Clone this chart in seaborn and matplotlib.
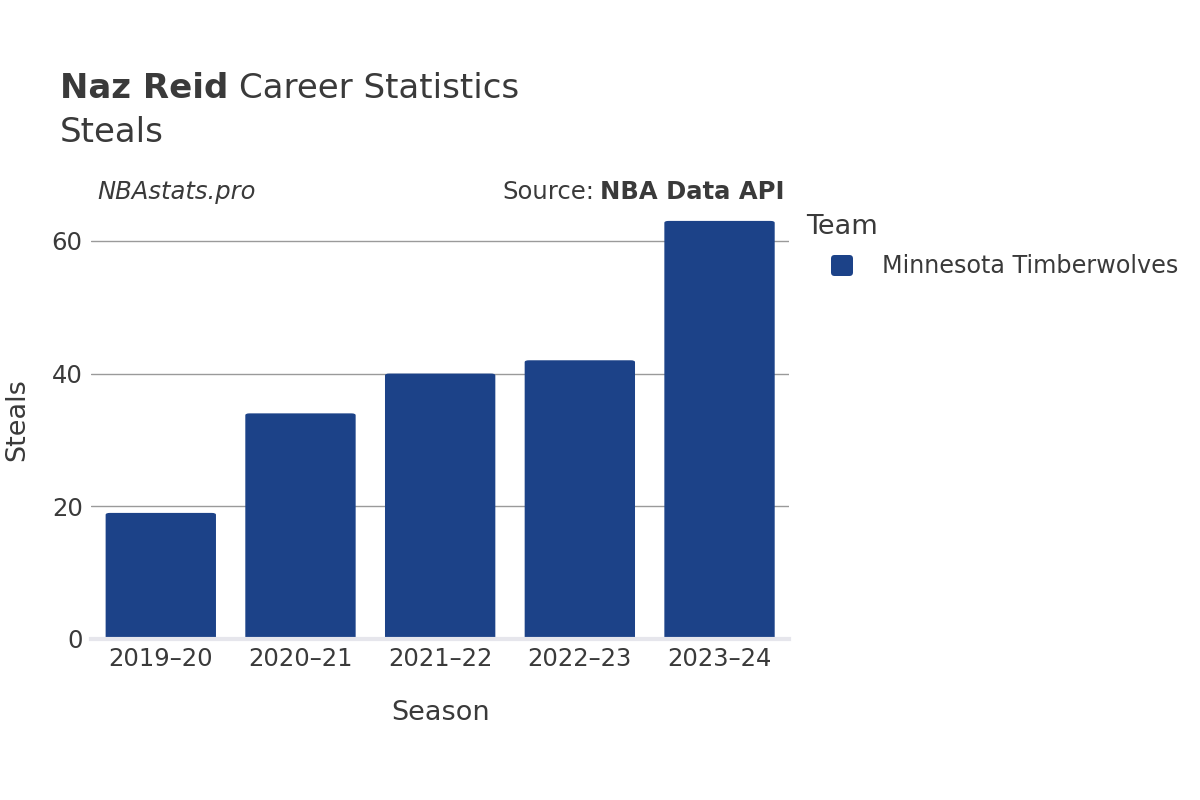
import pandas as pd
import matplotlib.pyplot as plt
import seaborn as sns
from matplotlib.patches import FancyBboxPatch

# Data
seasons = ['2019–20', '2020–21', '2021–22', '2022–23', '2023–24']
steals = [19, 34, 40, 42, 63]
teams = ['Minnesota Timberwolves'] * 5

bar_color = '#1c4288'
text_color = '#3a3a3a'

df = pd.DataFrame({'Season': seasons, 'Steals': steals, 'Team': teams})

sns.set_theme(style='white')
plt.rcParams['font.family'] = ['DejaVu Sans']

fig = plt.figure(figsize=(12, 8), dpi=100)
ax = fig.add_axes([0.0758, 0.20125, 0.582, 0.5475])

sns.barplot(data=df, x='Season', y='Steals', hue='Team', palette=[bar_color],
            width=0.79, dodge=False, legend=False, ax=ax, zorder=3)

# rounded top corners: replace rectangles with rounded boxes (bottom hidden under axis)
for p in list(ax.patches):
    x, y, w, h = p.get_x(), p.get_y(), p.get_width(), p.get_height()
    p.set_visible(False)
    rb = FancyBboxPatch((x, y - 3), w, h + 3,
                        boxstyle='round,pad=0,rounding_size=0.03',
                        mutation_aspect=9.5,
                        facecolor=bar_color, edgecolor='none', zorder=3,
                        clip_on=True)
    ax.add_patch(rb)

ax.set_xlim(-0.5, 4.5)
ax.set_ylim(0, 66)
ax.set_yticks([0, 20, 40, 60])
ax.yaxis.grid(True, color='#9a9a9a', linewidth=1)
ax.set_axisbelow(True)
for s in ['top', 'right', 'left']:
    ax.spines[s].set_visible(False)
ax.spines['bottom'].set_color('#e6e6ec')
ax.spines['bottom'].set_linewidth(3)
ax.spines['bottom'].set_zorder(4)
ax.tick_params(axis='both', length=0, labelsize=17.5, labelcolor=text_color, pad=6)

ax.set_xlabel('Season', fontsize=19.5, color=text_color, labelpad=21)
ax.set_ylabel('Steals', fontsize=19.5, color=text_color)
ax.yaxis.label.set_va('center')
ax.yaxis.set_label_coords((17 - 91) / 698, 0.5)

# title
t1 = fig.text(60 / 1200, 1 - 89 / 800, 'Naz Reid', fontsize=24.5, fontweight='bold',
              color=text_color, va='center', ha='left')
fig.canvas.draw()
bb = t1.get_window_extent()
fig.text(bb.x1 / 1200 + 0.009, 1 - 89 / 800, 'Career Statistics', fontsize=24.5,
         color=text_color, va='center', ha='left')
fig.text(60 / 1200, 1 - 133 / 800, 'Steals', fontsize=24.5, color=text_color,
         va='center', ha='left')

# annotations
fig.text(97 / 1200, 1 - 192 / 800, 'NBAstats.pro', fontsize=17.5, fontstyle='italic',
         color=text_color, va='center', ha='left')
s2 = fig.text(784 / 1200, 1 - 192 / 800, 'NBA Data API', fontsize=17.5, fontweight='bold',
              color=text_color, va='center', ha='right')
fig.canvas.draw()
bb2 = s2.get_window_extent()
fig.text(bb2.x0 / 1200 - 0.004, 1 - 192 / 800, 'Source:', fontsize=17.5,
         color=text_color, va='center', ha='right')

# legend, drawn by hand
fig.text(806 / 1200, 1 - 227 / 800, 'Team', fontsize=19.5, color=text_color,
         va='center', ha='left')
fig.patches.append(FancyBboxPatch((831 / 1200, 1 - 276 / 800), 22 / 1200, 21 / 800,
                                  boxstyle='round,pad=0,rounding_size=0.003',
                                  mutation_aspect=1.5,
                                  transform=fig.transFigure, figure=fig,
                                  facecolor=bar_color, edgecolor='none'))
fig.text(882 / 1200, 1 - 266 / 800, teams[0], fontsize=17.2, color=text_color,
         va='center', ha='left')

fig.savefig('out.png', dpi=100)
